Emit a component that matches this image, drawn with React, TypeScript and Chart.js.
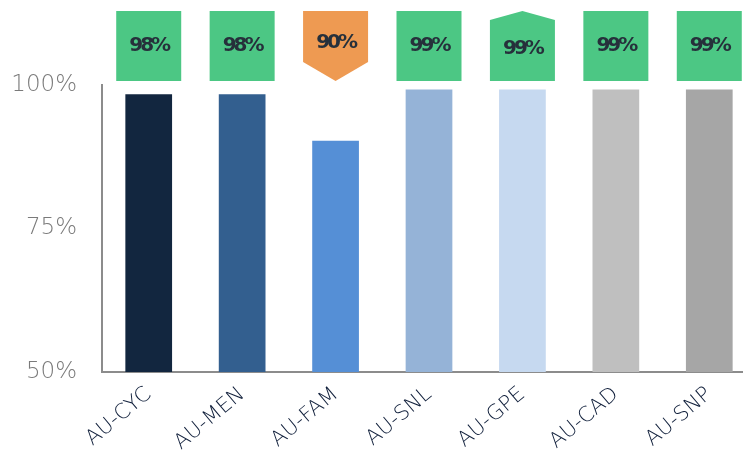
import React, { useEffect, useRef } from "react";
import { Chart, registerables } from "chart.js";

Chart.register(...registerables);

const categories = ["AU-CYC", "AU-MEN", "AU-FAM", "AU-SNL", "AU-GPE", "AU-CAD", "AU-SNP"];
const values = [98.4, 98.4, 90.3, 99.2, 99.2, 99.2, 99.2];
const trends = ["flat", "flat", "down", "flat", "up", "flat", "flat"];
const barColors = ["#12263F", "#335F8F", "#558FD6", "#95B3D7", "#C6D9F0", "#BFBFBF", "#A6A6A6"];
const yTicks = [50, 75, 100];

const badgePlugin = {
  id: "badges",
  afterDatasetsDraw(chart: any) {
    const ctx = chart.ctx;
    const meta = chart.getDatasetMeta(0);
    meta.data.forEach((bar: any, i: number) => {
      const x = bar.x;
      const w = 65;
      const top = 11;
      const bottom = 81;
      const l = x - w / 2;
      const r = x + w / 2;
      const t = trends[i];
      ctx.save();
      ctx.beginPath();
      let ty = (top + bottom) / 2;
      if (t === "down") {
        ctx.fillStyle = "#EE9A52";
        ctx.moveTo(l, top);
        ctx.lineTo(r, top);
        ctx.lineTo(r, 62);
        ctx.lineTo(x, bottom);
        ctx.lineTo(l, 62);
        ty = 43;
      } else if (t === "up") {
        ctx.fillStyle = "#4CC784";
        ctx.moveTo(x, top);
        ctx.lineTo(r, 20);
        ctx.lineTo(r, bottom);
        ctx.lineTo(l, bottom);
        ctx.lineTo(l, 20);
        ty = 49;
      } else {
        ctx.fillStyle = "#4CC784";
        ctx.rect(l, top, w, bottom - top);
        ty = 46;
      }
      ctx.closePath();
      ctx.fill();
      ctx.fillStyle = "#26303B";
      ctx.font = "bold 20px 'DejaVu Sans'";
      (ctx as any).letterSpacing = "-3px";
      ctx.textAlign = "center";
      ctx.textBaseline = "middle";
      ctx.fillText(Math.round(values[i]) + "%", x, ty);
      ctx.restore();
    });
  },
};

export default function App() {
  const ref = useRef<HTMLCanvasElement>(null);
  useEffect(() => {
    if (!ref.current) return;
    const chart = new Chart(ref.current, {
      type: "bar",
      data: {
        labels: categories,
        datasets: [
          {
            data: values,
            backgroundColor: barColors,
            barPercentage: 0.5,
            categoryPercentage: 1,
          },
        ],
      },
      options: {
        animation: false,
        responsive: false,
        devicePixelRatio: 1,
        layout: { padding: { top: 85, left: 10, right: 0, bottom: 0 } },
        plugins: { legend: { display: false }, tooltip: { enabled: false } },
        scales: {
          x: {
            afterFit: (s: any) => {
              s.height = 79;
            },
            grid: { display: false, drawTicks: false },
            border: { color: "#8C8C8C", width: 2 },
            ticks: {
              color: "#0F1E3A",
              font: { family: "'DejaVu Sans'", size: 21, weight: 200 as any },
              maxRotation: 40,
              minRotation: 40,
              padding: 10,
            },
          },
          y: {
            min: 50,
            max: 100,
            afterFit: (s: any) => {
              s.width = 92;
            },
            afterBuildTicks: (s: any) => {
              s.ticks = yTicks.map((v) => ({ value: v }));
            },
            grid: { display: false, drawTicks: false },
            border: { color: "#8C8C8C", width: 2 },
            ticks: {
              color: "#7A7A7A",
              font: { family: "'DejaVu Sans'", size: 23, weight: 200 as any },
              padding: 25,
              callback: (v: any) => v + "%",
            },
          },
        },
      },
      plugins: [badgePlugin],
    });
    return () => chart.destroy();
  }, []);
  return (
    <div style={{ position: "fixed", left: 0, top: 0, width: 743, height: 451, overflow: "hidden", background: "#fff" }}>
      <canvas ref={ref} width={756} height={451} style={{ display: "block" }} />
    </div>
  );
}
